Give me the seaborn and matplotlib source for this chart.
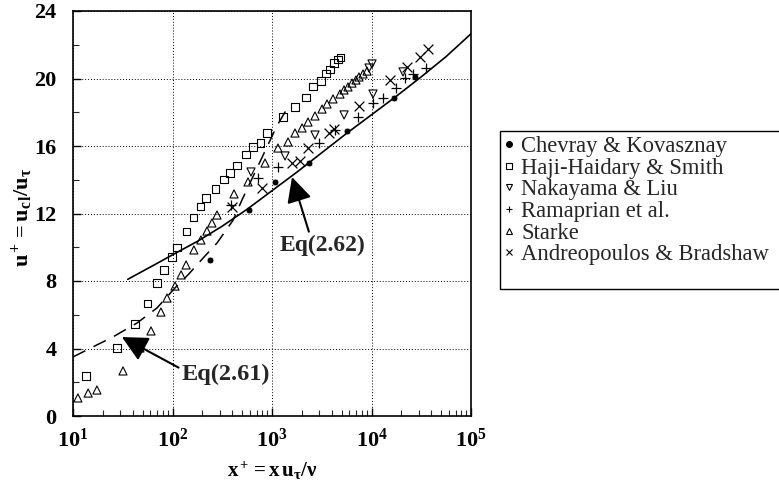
import matplotlib
matplotlib.use('Agg')
import matplotlib.pyplot as plt
import seaborn as sns
from matplotlib.lines import Line2D
from matplotlib.patches import Rectangle

# ---------------- data ----------------
chevray_x = [238, 587, 1072, 2355, 5676, 16830, 27350]
chevray_y = [9.24, 12.21, 13.87, 14.99, 16.89, 18.84, 20.09]

haji_x = [13.5, 27.7, 42.0, 55.5, 69.8, 82.2, 98.9, 111, 137, 164, 193, 217, 273, 329,
          378, 445, 548, 644, 774, 891, 1291, 1702, 2197, 2583, 3105, 3490, 3828, 4197,
          4602, 4932]
haji_y = [2.37, 4.03, 5.45, 6.64, 7.88, 8.65, 9.42, 10.01, 10.96, 11.79, 12.39, 12.92,
          13.45, 14.04, 14.4, 14.87, 15.47, 15.94, 16.18, 16.77, 17.72, 18.31, 18.9, 19.5,
          19.85, 20.27, 20.56, 20.92, 21.1, 21.27]

nakayama_x = [615, 1352, 2705, 5300, 9440, 10120, 10350, 20740]
nakayama_y = [14.46, 15.41, 16.65, 17.84, 20.62, 20.86, 19.08, 20.39]

ramaprian_x = [387, 723, 1148, 2965, 4295, 7310, 10350, 13060, 17630, 21720, 26100, 35300]
ramaprian_y = [12.5, 14.1, 14.76, 16.18, 16.95, 17.72, 18.55, 18.84, 19.44, 20.03, 20.27,
               20.62]

starke_x = [11.2, 14.2, 17.4, 31.8, 47.1, 60.8, 76.5, 88.1, 106, 122, 137, 164, 193, 222,
            249, 280, 415, 574, 851, 1148, 1449, 1702, 2004, 2301, 2704, 3184, 3574, 4103,
            4822, 5294, 5805, 6367, 6982, 7480, 8222, 9015]
starke_y = [1.07, 1.36, 1.54, 2.67, 4.03, 5.04, 6.16, 6.99, 7.70, 8.36, 8.95, 9.84, 10.43,
            10.96, 11.44, 11.91, 13.16, 13.87, 14.99, 15.88, 16.24, 16.77, 17.07, 17.42,
            17.78, 18.19, 18.49, 18.79, 19.08, 19.32, 19.5, 19.73, 19.91, 20.09, 20.27,
            20.44]

andreo_x = [396, 793, 1589, 1910, 2300, 3740, 4200, 7480, 15350, 22750, 30700, 36960]
andreo_y = [12.39, 13.51, 14.99, 15.11, 15.88, 16.77, 17.0, 18.37, 19.91, 20.68, 21.27,
            21.75]

# Eq(2.61) dashed curve and Eq(2.62) solid curve
eq261_x = [10, 15.8, 25.1, 44.0, 69.8, 106, 143, 203, 280, 406, 499, 1122, 1445]
eq261_y = [3.5, 4.09, 4.68, 5.51, 6.4, 7.59, 8.36, 9.36, 10.25, 11.6, 12.8, 17.2, 18.3]

eq262_x = [35.5, 63.1, 100, 178, 316, 562, 1000, 1778, 3162, 5623, 10000, 17780, 31620,
           56230, 100000]
eq262_y = [8.1, 8.9, 9.55, 10.35, 11.25, 12.25, 13.35, 14.45, 15.6, 16.75, 17.85, 18.95,
           20.1, 21.3, 22.65]

series_names = ['Chevray & Kovasznay', 'Haji-Haidary & Smith', 'Nakayama & Liu',
                'Ramaprian et al.', 'Starke', 'Andreopoulos & Bradshaw']

xtick_values = [10, 100, 1000, 10000, 100000]
xtick_labels = [r'$\mathbf{10^{1}}$', r'$\mathbf{10^{2}}$', r'$\mathbf{10^{3}}$',
                r'$\mathbf{10^{4}}$', r'$\mathbf{10^{5}}$']
ytick_values = [0, 4, 8, 12, 16, 20, 24]
ytick_labels = ['0', '4', '8', '12', '16', '20', '24']

# ---------------- style ----------------
sns.set_theme(style='white')
plt.rcParams['font.family'] = ['Liberation Serif', 'DejaVu Serif']
plt.rcParams['mathtext.fontset'] = 'custom'
plt.rcParams['mathtext.rm'] = 'Liberation Serif'
plt.rcParams['mathtext.it'] = 'Liberation Serif:italic'
plt.rcParams['mathtext.bf'] = 'Liberation Serif:bold'

fig = plt.figure(figsize=(7.79, 4.88), dpi=100)
ax = fig.add_axes([73 / 779, 72 / 488, 398 / 779, 405 / 488])
ax.set_xscale('log')

# equation lines
sns.lineplot(x=eq262_x, y=eq262_y, ax=ax, color='black', lw=1.2, sort=False,
             estimator=None)
sns.lineplot(x=eq261_x, y=eq261_y, ax=ax, color='black', lw=1.1, sort=False,
             estimator=None)
ax.lines[-1].set_linestyle((0, (9, 6)))

# scatter series
specs = [
    (chevray_x, chevray_y, 'o', True, 24, 0.5),
    (haji_x, haji_y, 's', False, 26, 0.8),
    (nakayama_x, nakayama_y, 'v', False, 34, 0.8),
    (ramaprian_x, ramaprian_y, '+', True, 55, 0.9),
    (starke_x, starke_y, '^', False, 34, 0.8),
    (andreo_x, andreo_y, 'x', True, 50, 0.9),
]
for xs, ys, mk, filled, size, lw in specs:
    n_before = len(ax.collections)
    sns.scatterplot(x=xs, y=ys, ax=ax, marker=mk, s=size, color='black',
                    linewidth=lw, legend=False)
    coll = ax.collections[n_before]
    if not filled:
        coll.set_facecolor('none')
        coll.set_edgecolor('black')

# axes
ax.set_xlim(10, 100000)
ax.set_ylim(0, 24)
ax.set_xticks(xtick_values)
ax.set_xticklabels(xtick_labels)
ax.set_yticks(ytick_values)
ax.set_yticklabels(ytick_labels, fontweight='bold')
ax.set_yticks([2, 6, 10, 14, 18, 22], minor=True)
ax.tick_params(axis='both', which='major', direction='in', length=6, width=1,
               labelsize=16, colors='black', bottom=True, left=True)
ax.tick_params(axis='x', which='major', pad=9)
ax.tick_params(axis='y', which='major', pad=12)
ax.tick_params(axis='both', which='minor', direction='in', length=4, width=0.8,
               bottom=True, left=True)
ax.xaxis.set_minor_locator(matplotlib.ticker.LogLocator(base=10, subs=range(2, 10)))
ax.xaxis.set_minor_formatter(matplotlib.ticker.NullFormatter())
for s in ax.spines.values():
    s.set_color('black')
    s.set_linewidth(1.2)

ax.grid(True, which='major', color='black', linestyle=(0, (1, 2)), linewidth=0.7)

ax.set_xlabel(r'$\mathbf{x^+ = x\,u_\tau/\nu}$', fontsize=15, color='black', labelpad=6)
ax.set_ylabel(r'$\mathbf{u^+ = u_{c\,l}/u_\tau}$', fontsize=16, color='black')
ax.yaxis.set_label_coords(-0.095, 0.49)

# annotations
ax.annotate('Eq(2.62)', xy=(1589, 14.16), xytext=(1200, 10.1), fontsize=17,
            fontweight='bold', ha='left', va='center',
            arrowprops=dict(arrowstyle='-|>,head_length=0.9,head_width=0.45',
                            color='black', lw=1.5, shrinkA=0, shrinkB=0,
                            relpos=(0.35, 1.0)))
ax.annotate('Eq(2.61)', xy=(31.0, 4.68), xytext=(124, 2.45), fontsize=17.5,
            fontweight='bold', ha='left', va='center',
            arrowprops=dict(arrowstyle='-|>,head_length=0.9,head_width=0.45',
                            color='black', lw=1.5, shrinkA=0, shrinkB=0,
                            relpos=(0.0, 0.75)))

# legend
handles = [
    Line2D([], [], ls='none', marker='o', ms=4, color='black'),
    Line2D([], [], ls='none', marker='s', ms=4, mfc='none', mec='black', mew=0.8),
    Line2D([], [], ls='none', marker='v', ms=4.5, mfc='none', mec='black', mew=0.8),
    Line2D([], [], ls='none', marker='+', ms=5, color='black', mew=0.8),
    Line2D([], [], ls='none', marker='^', ms=4.5, mfc='none', mec='black', mew=0.8),
    Line2D([], [], ls='none', marker='x', ms=4.5, color='black', mew=0.8),
]
leg = fig.legend(handles, series_names, loc='upper left',
                 bbox_to_anchor=(502 / 779, 1 - 136 / 488), fontsize=16.3,
                 frameon=False, handlelength=0.6, handletextpad=0.25,
                 labelspacing=0.03, borderpad=0.0, borderaxespad=0)
fig.patches.append(Rectangle((500 / 779, 1 - 289 / 488), 285 / 779, 158 / 488,
                             transform=fig.transFigure, fill=False, edgecolor='black',
                             linewidth=1.0, clip_on=False))

fig.savefig('out.png', dpi=100)
